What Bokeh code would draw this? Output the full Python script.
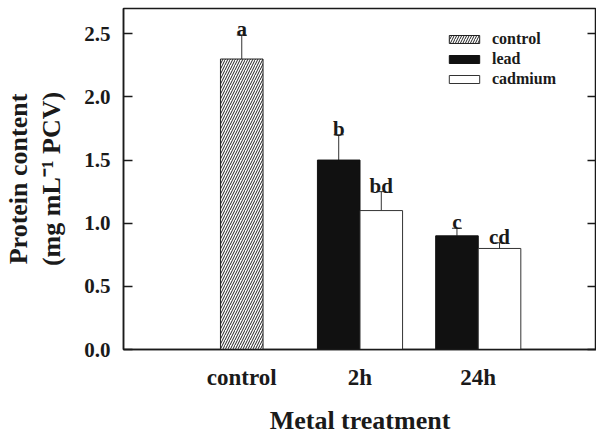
import math
from bokeh.plotting import figure
from bokeh.models import (FactorRange, Range1d, LinearAxis, Whisker, TeeHead, ColumnDataSource,
                          Legend, LegendItem, FixedTicker, NumeralTickFormatter,
                          CustomLabelingPolicy)
from bokeh.transform import dodge
from bokeh.core.properties import value
from bokeh.embed import file_html
from bokeh.resources import INLINE

# ---- data ----
groups = ["control", "2h", "24h"]
control_group = ["control"]
control_mean = [2.30]
control_err = [0.19]
control_letters = ["a"]
metal_groups = ["2h", "24h"]
lead_mean = [1.50, 0.90]
lead_err = [0.20, 0.06]
lead_letters = ["b", "c"]
cadmium_mean = [1.10, 0.80]
cadmium_err = [0.15, 0.045]
cadmium_letters = ["bd", "cd"]
y_ticks = [0.0, 0.5, 1.0, 1.5, 2.0, 2.5]
series_names = ["control", "lead", "cadmium"]
y_title = ["Protein content", "(mg mL\u207b\u00b9 PCV)"]
x_title = "Metal treatment"

FONT_NAME = "Liberation Serif"
FONT = value(FONT_NAME)
INK = "#1a1a1a"
BAR_W = 0.36
OFF = 0.18


def make_src(g, m, e, l):
    return ColumnDataSource(dict(group=g, mean=m, upper=[a + b for a, b in zip(m, e)], letter=l))


ctrl_src = make_src(control_group, control_mean, control_err, control_letters)
lead_src = make_src(metal_groups, lead_mean, lead_err, lead_letters)
cad_src = make_src(metal_groups, cadmium_mean, cadmium_err, cadmium_letters)

p = figure(x_range=FactorRange(factors=groups, range_padding=1 / 3, range_padding_units="percent"),
           y_range=Range1d(0, 2.7), width=596, height=437,
           output_backend="svg", toolbar_location=None,
           min_border_left=116, min_border_right=0, min_border_top=8, min_border_bottom=86)

p.xgrid.grid_line_color = None
p.ygrid.grid_line_color = None
p.outline_line_color = INK
p.outline_line_width = 1.5

# bars
xc = "group"
xl = dodge("group", -OFF, range=p.x_range)
xr = dodge("group", OFF, range=p.x_range)

r_ctrl = p.vbar(x=xc, top="mean", width=BAR_W, source=ctrl_src, fill_color="white",
                hatch_pattern="/", hatch_scale=5, hatch_weight=1, hatch_color="#222222",
                line_color="#222222", line_width=1)
r_lead = p.vbar(x=xl, top="mean", width=BAR_W, source=lead_src, fill_color="#111111",
                line_color="#111111", line_width=1)
r_cad = p.vbar(x=xr, top="mean", width=BAR_W, source=cad_src, fill_color="white",
               line_color="#333333", line_width=1)

for src, xx in [(ctrl_src, xc), (lead_src, xl), (cad_src, xr)]:
    w = Whisker(source=src, base=xx, lower="mean", upper="upper", dimension="height",
                lower_head=None,
                upper_head=TeeHead(size=10, line_color="#333333", line_width=1),
                line_color="#333333", line_width=1)
    p.add_layout(w)
    p.text(x=xx, y="upper", text="letter", source=src, text_align="center",
           text_baseline="alphabetic", y_offset=-6, text_font=FONT, text_font_style="bold",
           text_font_size="21px", text_color=INK)

# axes
for ax in p.yaxis:
    ax.ticker = FixedTicker(ticks=y_ticks)
    ax.formatter = NumeralTickFormatter(format="0.0")
    ax.major_tick_in = 9
    ax.major_tick_out = 0
    ax.minor_tick_line_color = None
    ax.axis_line_width = 1.5
    ax.axis_line_color = INK
    ax.major_tick_line_width = 1.5
    ax.major_tick_line_color = INK
    ax.major_label_text_font = FONT_NAME
    ax.major_label_text_font_style = "bold"
    ax.major_label_text_font_size = "21px"
    ax.major_label_text_color = INK
    ax.major_label_standoff = 13
    ax.axis_label = "\n".join(y_title)
    ax.axis_label_text_font = FONT_NAME
    ax.axis_label_text_font_style = "bold"
    ax.axis_label_text_font_size = "26px"
    ax.axis_label_text_color = INK
    ax.axis_label_text_line_height = 1.15
    ax.axis_label_standoff = 15

right = LinearAxis(ticker=FixedTicker(ticks=y_ticks),
                   major_label_policy=CustomLabelingPolicy(code="return []"),
                   major_label_text_font_size="0px",
                   major_label_standoff=0, major_tick_in=9, major_tick_out=0,
                   minor_tick_line_color=None, axis_line_width=1.5, axis_line_color=INK,
                   major_tick_line_width=1.5, major_tick_line_color=INK)
p.add_layout(right, "right")

for ax in p.xaxis:
    ax.major_tick_line_color = None
    ax.axis_line_width = 1.5
    ax.axis_line_color = INK
    ax.major_label_text_font = FONT_NAME
    ax.major_label_text_font_style = "bold"
    ax.major_label_text_font_size = "23px"
    ax.major_label_text_color = INK
    ax.major_label_standoff = 9
    ax.axis_label = x_title
    ax.axis_label_text_font = FONT_NAME
    ax.axis_label_text_font_style = "bold"
    ax.axis_label_text_font_size = "26px"
    ax.axis_label_text_color = INK
    ax.axis_label_standoff = 13

legend = Legend(items=[LegendItem(label=series_names[0], renderers=[r_ctrl]),
                       LegendItem(label=series_names[1], renderers=[r_lead]),
                       LegendItem(label=series_names[2], renderers=[r_cad])],
                location=(322, 261), glyph_width=38, glyph_height=10, label_height=17,
                spacing=2, padding=0, margin=0, label_standoff=9,
                border_line_color=None, background_fill_alpha=0,
                label_text_font=FONT_NAME, label_text_font_style="bold",
                label_text_font_size="16px", label_text_color=INK)
p.add_layout(legend)

open("out.html", "w").write(file_html(p, INLINE))
